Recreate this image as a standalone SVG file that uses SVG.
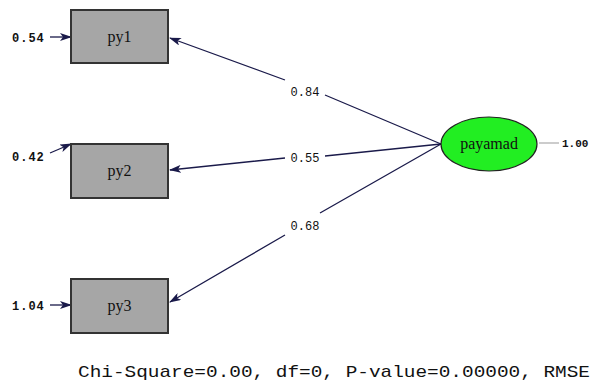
<svg xmlns="http://www.w3.org/2000/svg" width="592" height="389" viewBox="0 0 592 389">
<style>
.box{fill:#a6a6a6;stroke:#333;stroke-width:2}
.lbl{font-family:"Liberation Serif",serif;font-size:16px;fill:#111;text-anchor:middle}
.coef{font-family:"Liberation Mono",monospace;font-size:12px;fill:#111;text-anchor:middle}
.err{font-family:"Liberation Mono",monospace;font-size:12px;font-weight:bold;fill:#111;letter-spacing:1px}
.ln{stroke:#1a1a4a;stroke-width:1.3;fill:none}
</style>
<defs>
<marker id="ah" markerWidth="12" markerHeight="8" refX="11" refY="4" orient="auto" markerUnits="userSpaceOnUse">
<path d="M0,0 L12,4 L0,8 L3,4 Z" fill="#1a1a4a"/>
</marker>
</defs>
<rect width="592" height="389" fill="#fff"/>
<g id="connectors">
<path class="ln" d="M441,144 L325,95 M285,80 L170,38" marker-end="url(#ah)"/>
<path class="ln" d="M441,144 L325,156 M285,158 L170,170" marker-end="url(#ah)"/>
<path class="ln" d="M441,144 L320,213 M285,235 L170,302" marker-end="url(#ah)"/>
<path class="ln" d="M50,37 L71,37" marker-end="url(#ah)"/>
<path class="ln" d="M50,153 L71,144" marker-end="url(#ah)"/>
<path class="ln" d="M50,305 L71,305" marker-end="url(#ah)"/>
<line x1="539" y1="143" x2="559" y2="143" stroke="#999" stroke-width="1"/>
<text class="coef" x="305" y="96">0.84</text>
<text class="coef" x="305" y="162">0.55</text>
<text class="coef" x="305" y="230">0.68</text>
<text class="err" x="12" y="42">0.54</text>
<text class="err" x="12" y="161">0.42</text>
<text class="err" x="12" y="310">1.04</text>
<text class="err" x="562" y="147" style="font-size:11px;letter-spacing:0px">1.00</text>
</g>
<g id="py1"><rect class="box" x="71" y="10" width="97" height="53"/><text class="lbl" x="119.5" y="42">py1</text></g>
<g id="py2"><rect class="box" x="71" y="144" width="97" height="54"/><text class="lbl" x="119.5" y="176">py2</text></g>
<g id="py3"><rect class="box" x="71" y="279" width="97" height="54"/><text class="lbl" x="119.5" y="311">py3</text></g>
<g id="payamad"><ellipse cx="489" cy="144" rx="48" ry="27" fill="#22ee22" stroke="#222" stroke-width="1.2"/><text class="lbl" x="489" y="149">payamad</text></g>
<text x="78" y="377" font-family="Liberation Mono,monospace" font-size="17" fill="#111" textLength="512" lengthAdjust="spacingAndGlyphs">Chi-Square=0.00, df=0, P-value=0.00000, RMSE</text>
</svg>
